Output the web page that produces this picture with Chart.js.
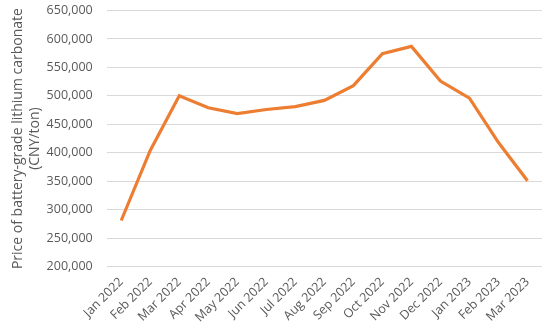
<!DOCTYPE html>
<html>
<head>
<meta charset="utf-8">
<script src="https://cdn.jsdelivr.net/npm/chart.js@4"></script>
<style>
  html, body { margin: 0; padding: 0; background: #fff; }
  #wrap { width: 550px; height: 329px; }
</style>
</head>
<body>
<div id="wrap"><canvas id="priceChart"></canvas></div>
<script>
// months and price (CNY/ton)
const months = ['Jan 2022', 'Feb 2022', 'Mar 2022', 'Apr 2022', 'May 2022', 'Jun 2022', 'Jul 2022',
  'Aug 2022', 'Sep 2022', 'Oct 2022', 'Nov 2022', 'Dec 2022', 'Jan 2023', 'Feb 2023', 'Mar 2023'];
const prices = [281000, 404000, 500000, 479000, 469000, 476000, 481000,
  492000, 518000, 574000, 587000, 526000, 496000, 418000, 351000];
const yMin = 200000;
const yMax = 650000;
const yStep = 50000;

const ctx = document.getElementById('priceChart').getContext('2d');
new Chart(ctx, {
  type: 'line',
  data: {
    labels: months,
    datasets: [{
      data: prices,
      borderColor: '#ED7D31',
      borderWidth: 3.2,
      pointRadius: 0,
      tension: 0,
      fill: false
    }]
  },
  options: {
    responsive: true,
    maintainAspectRatio: false,
    animation: false,
    layout: { padding: { top: 0, right: 8, left: 10, bottom: 4 } },
    plugins: { legend: { display: false }, tooltip: { enabled: false } },
    scales: {
      x: {
        offset: true,
        grid: { display: false },
        border: { display: false },
        ticks: {
          color: '#595959',
          font: { family: 'Open Sans', size: 12.5 },
          maxRotation: 45,
          minRotation: 45,
          autoSkip: false,
          padding: 0
        }
      },
      y: {
        min: yMin,
        max: yMax,
        // invisible tick marks give the gap between labels and plot
        grid: { color: '#d9d9d9', lineWidth: 1, drawTicks: true, tickLength: 11, tickColor: 'rgba(0,0,0,0)' },
        border: { display: false },
        ticks: {
          stepSize: yStep,
          color: '#595959',
          font: { family: 'Open Sans', size: 12.5 },
          padding: 3,
          callback: v => v.toLocaleString('en-US')
        },
        title: {
          display: true,
          text: ['Price of battery-grade lithium carbonate', '(CNY/ton)'],
          color: '#595959',
          font: { family: 'Open Sans', size: 14 },
          padding: { top: 0, bottom: 0 }
        }
      }
    }
  }
});
</script>
</body>
</html>
